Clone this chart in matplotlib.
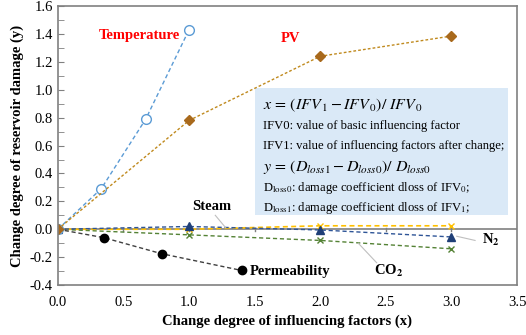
import matplotlib.pyplot as plt
from matplotlib.ticker import MultipleLocator

plt.rcParams['font.family'] = ['Liberation Serif', 'DejaVu Serif']
plt.rcParams['mathtext.fontset'] = 'stix'

# data
temp_x = [0, 0.33, 0.67, 1.0]
temp_y = [0, 0.29, 0.79, 1.43]
pv_x = [0, 1.0, 2.0, 3.0]
pv_y = [0, 0.78, 1.24, 1.385]
perm_x = [0, 0.35, 0.79, 1.4]
perm_y = [0, -0.06, -0.175, -0.295]
steam_x = [0, 1.0, 2.0, 3.0]
steam_y = [0, 0.0, 0.025, 0.025]
n2_x = [0, 1.0, 2.0, 3.0]
n2_y = [0, 0.02, -0.005, -0.055]
co2_x = [0, 1.0, 2.0, 3.0]
co2_y = [0, -0.04, -0.08, -0.14]

box_lines = [
    '$x\\,=\\,(IFV_{\\,1}-IFV_{\\,0})/\\ IFV_{\\,0}$',
    'IFV0: value of basic influencing factor',
    'IFV1: value of influencing factors after change;',
    '$y\\,=\\,(D_{loss1}-D_{loss0})/\\ D_{loss0}$',
    'D$_{\\mathrm{loss0}}$: damage coefficient dloss of IFV$_0$;',
    'D$_{\\mathrm{loss1}}$: damage coefficient dloss of IFV$_1$;',
]

fig = plt.figure(figsize=(5.26, 3.35), dpi=100)
ax = fig.add_axes([0.110, 0.149, 0.873, 0.833])

ax.plot(co2_x, co2_y, '--', color='#548235', lw=1, dashes=(3, 2),
        marker='x', ms=5, mec='#548235', mew=1)
ax.plot(steam_x, steam_y, '--', color='#FFC000', lw=1.2, dashes=(3, 2),
        marker='x', ms=5, mew=1)
ax.plot(n2_x, n2_y, '--', color='#2F5597', lw=1, dashes=(3, 2),
        marker='^', ms=6, mfc='#1F3F77', mec='#1F3F77')
ax.plot(perm_x, perm_y, '--', color='#404040', lw=1, dashes=(3, 2),
        marker='o', ms=6, mfc='black', mec='black')
ax.plot(temp_x, temp_y, '--', color='#5B9BD5', lw=1, dashes=(3, 2),
        marker='o', ms=7, mfc='white', mec='#5B9BD5', mew=1)
ax.plot(pv_x, pv_y, '--', color='#C08A1E', lw=1, dashes=(2, 1.5),
        marker='D', ms=5, mfc='#A8691C', mec='#A8691C')

ax.set_xlim(0, 3.5)
ax.set_ylim(-0.4, 1.6)
ax.xaxis.set_major_locator(MultipleLocator(0.5))
ax.yaxis.set_major_locator(MultipleLocator(0.2))
ax.yaxis.set_minor_locator(MultipleLocator(0.1))
ax.set_xticklabels([f'{v:.1f}' for v in ax.get_xticks()])
ax.set_yticklabels([f'{v:.1f}' for v in ax.get_yticks()])
ax.tick_params(axis='y', which='both', direction='in', length=4, color='#808080', labelsize=10.5)
ax.tick_params(axis='x', length=0, labelsize=10.5, pad=8)
for s in ax.spines.values():
    s.set_color('#808080')
    s.set_linewidth(1.2)

# x axis line at zero with crossing ticks
ax.axhline(0, color='#808080', lw=1.2, zorder=1)
for xv in [0.5, 1.0, 1.5, 2.0, 2.5, 3.0]:
    ax.plot([xv, xv], [-0.012, 0.012], color='#808080', lw=1, zorder=1)

ax.set_xlabel('Change degree of influencing factors (x)', fontsize=10.5, fontweight='bold')
ax.set_ylabel('Change degree of reservoir damage (y)', fontsize=10.5, fontweight='bold', labelpad=4)

# series labels
ax.text(0.62, 1.39, 'Temperature', color='red', fontsize=10.5, fontweight='bold', ha='center', va='center')
ax.text(1.77, 1.37, 'PV', color='red', fontsize=10.5, fontweight='bold', ha='center', va='center')
ax.text(1.17, 0.16, 'Steam', fontsize=10.5, fontweight='bold', ha='center', va='center')
ax.text(3.3, -0.08, 'N$_\\mathbf{2}$', fontsize=10.5, fontweight='bold', ha='center', va='center')
ax.text(2.52, -0.3, 'CO$_\\mathbf{2}$', fontsize=10.5, fontweight='bold', ha='center', va='center')
ax.text(1.77, -0.3, 'Permeability', fontsize=10.5, fontweight='bold', ha='center', va='center')
ax.plot([1.2, 1.28], [0.1, 0.01], color='#BFBFBF', lw=0.8)
ax.plot([3.04, 3.18], [-0.05, -0.08], color='#BFBFBF', lw=0.8)
ax.plot([2.43, 2.29], [-0.24, -0.1], color='#BFBFBF', lw=0.8)

# info box
ax.add_patch(plt.Rectangle((1.50, 0.10), 1.93, 0.91, facecolor='#DAE9F7',
                           edgecolor='none', zorder=0.5))
for i, t in enumerate(box_lines):
    fs = 11.5 if t.startswith('$') else 9.1
    ax.text(1.56, 0.89 - i * 0.148, t, fontsize=fs, va='center', ha='left')

fig.savefig('out.png', dpi=100)
